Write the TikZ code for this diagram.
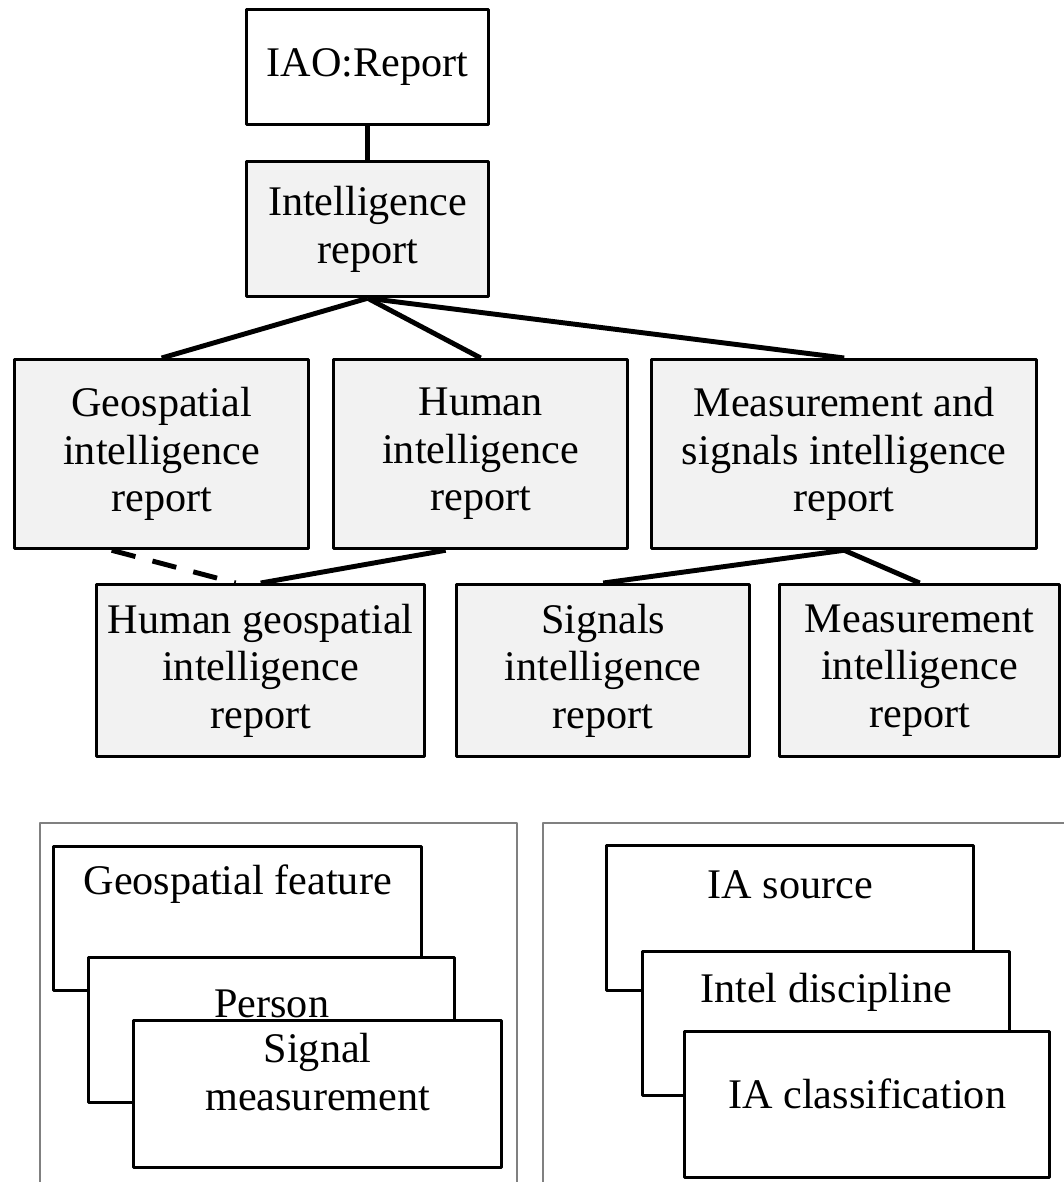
\documentclass[tikz,border=0pt]{standalone}
\usepackage{fontspec}
\setmainfont{Liberation Serif}
\usetikzlibrary{positioning}

\begin{document}
\begin{tikzpicture}[x=0.01cm,y=-0.01cm,line join=round,font=\fontsize{12}{13.5}\selectfont,
	box/.style={draw,line width=0.9pt,fill=white,anchor=north west,inner sep=0pt,align=center},
	rep/.style={box,fill=black!5},
	link/.style={line width=1.4pt},
	frame/.style={draw=black!50,line width=0.6pt}]
	\useasboundingbox (0,0) rectangle (1063,1182);
	% report tree
	\node[box,minimum width=2.42cm,minimum height=1.15cm] (iao) at (245,8) {IAO:Report};
	\node[rep,minimum width=2.42cm,minimum height=1.35cm] (intel) at (245,160) {Intelligence\\report};
	\node[rep,minimum width=2.94cm,minimum height=1.89cm] (geo) at (13,358) {Geospatial\\intelligence\\report};
	\node[rep,minimum width=2.94cm,minimum height=1.89cm] (hum) at (332,358) {Human\\intelligence\\report};
	\node[rep,minimum width=3.85cm,minimum height=1.89cm] (masint) at (650,358) {Measurement and\\signals intelligence\\report};
	\node[rep,minimum width=3.28cm,minimum height=1.72cm] (humgeo) at (95,583) {Human geospatial\\intelligence\\report};
	\node[rep,minimum width=2.93cm,minimum height=1.72cm] (sigint) at (455,583) {Signals\\intelligence\\report};
	\node[rep,minimum width=2.80cm,minimum height=1.72cm] (meas) at (778,583) {Measurement\\intelligence\\report};
	\draw[link] (iao) -- (intel);
	\foreach \n in {geo,hum,masint}
	\draw[link] (intel.south) -- (\n.north);
	\draw[link,dash pattern=on 7pt off 5pt] ([xshift=-0.5cm]geo.south) -- ([xshift=-0.25cm]humgeo.north);
	\draw[link] ([xshift=-0.35cm]hum.south) -- (humgeo.north);
	\foreach \n in {sigint,meas}
	\draw[link] (masint.south) -- (\n.north);
	% the two panels
	\draw[frame] (40,1190) -- (40,823) -- (517,823) -- (517,1190);
	\draw[frame] (543,1190) -- (543,823) -- (1070,823);
	\node[box,minimum width=3.68cm,minimum height=1.44cm,
	label={[anchor=center,yshift=-0.39cm]north:Geospatial feature}] (feat) at (52,845) {};
	\node[box,minimum width=3.66cm,minimum height=1.45cm,
	label={[anchor=center,yshift=-0.48cm]north:Person}] (pers) at (87,956) {};
	\node[box,minimum width=3.68cm,minimum height=1.47cm,
	label={[anchor=center,align=center,yshift=-0.53cm]north:Signal\\measurement}] (sigm) at (132,1019) {};
	\node[box,minimum width=3.67cm,minimum height=1.45cm,
	label={[anchor=center,yshift=-0.41cm]north:IA source}] (src) at (605,844) {};
	\node[box,minimum width=3.67cm,minimum height=1.44cm,
	label={[anchor=center,yshift=-0.42cm]north:Intel discipline}] (disc) at (641,950) {};
	\node[box,minimum width=3.65cm,minimum height=1.46cm,
	label={[anchor=center,yshift=-0.64cm]north:IA classification}] (cls) at (683,1030) {};
\end{tikzpicture}
\end{document}
